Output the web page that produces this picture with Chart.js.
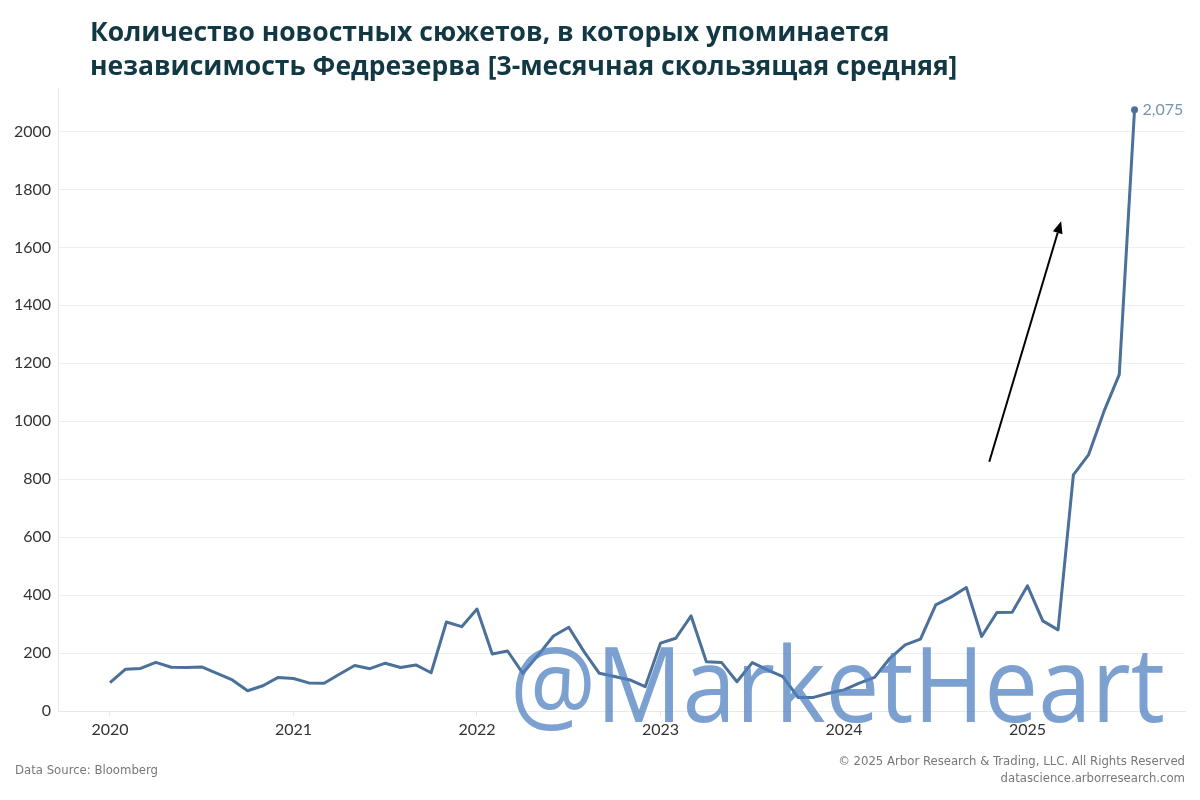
<!DOCTYPE html>
<html>
<head>
<meta charset="utf-8">
<script src="https://cdn.jsdelivr.net/npm/chart.js@4.4.1/dist/chart.umd.min.js"></script>
<style>
  html, body { margin: 0; padding: 0; background: #ffffff; }
  #c { display: block; }
</style>
</head>
<body>
<canvas id="c" width="1200" height="800"></canvas>
<script>
// ---- Data (monthly, Jan 2020 – Aug 2025) ----
const startYear = 2020;
const yearLabels = ['2020', '2021', '2022', '2023', '2024', '2025'];
const counts2020 = [98, 144, 147, 168, 151, 150, 152, 130, 107, 70, 87, 116];
const counts2021 = [112, 97, 96, 127, 157, 146, 165, 150, 159, 132, 307, 291];
const counts2022 = [352, 197, 207, 130, 193, 259, 289, 205, 130, 119, 107, 84];
const counts2023 = [234, 251, 328, 170, 167, 101, 167, 142, 119, 47, 47, 61];
const counts2024 = [73, 96, 116, 182, 228, 248, 366, 393, 426, 257, 340, 341];
const counts2025 = [432, 311, 280, 815, 885, 1034, 1161, 2075];
const yTickValues = [0, 200, 400, 600, 800, 1000, 1200, 1400, 1600, 1800, 2000];
// annotation arrow, in data units (month index, value)
const arrowFrom = { x: 57.5, y: 860 };
const arrowTo = { x: 62.2, y: 1690 };

const titleLines = [
  'Количество новостных сюжетов, в которых упоминается',
  'независимость Федрезерва [3-месячная скользящая средняя]'
];
const sourceText = 'Data Source: Bloomberg';
const copyrightLines = [
  '© 2025 Arbor Research & Trading, LLC. All Rights Reserved',
  'datascience.arborresearch.com'
];
const watermarkText = '@MarketHeart';

const allCounts = [].concat(counts2020, counts2021, counts2022, counts2023, counts2024, counts2025);
const points = allCounts.map((v, i) => ({ x: i, y: v }));
const lastIndex = points.length - 1;
const LINE = '#4b7099';

const overlayPlugin = {
  id: 'overlay',
  afterDatasetsDraw(chart) {
    const { ctx, scales } = chart;
    const xs = scales.x, ys = scales.y;
    ctx.save();
    // end label
    const lp = points[lastIndex];
    ctx.font = '16px Lato, "Open Sans", sans-serif';
    ctx.fillStyle = '#7a93ad';
    ctx.textAlign = 'left';
    ctx.textBaseline = 'middle';
    ctx.fillText(lp.y.toLocaleString('en-US'), xs.getPixelForValue(lp.x) + 8, ys.getPixelForValue(lp.y));

    // arrow
    const x1 = xs.getPixelForValue(arrowFrom.x), y1 = ys.getPixelForValue(arrowFrom.y);
    const x2 = xs.getPixelForValue(arrowTo.x), y2 = ys.getPixelForValue(arrowTo.y);
    const ang = Math.atan2(y2 - y1, x2 - x1);
    const head = 12, hw = 5;
    const bx = x2 - head * Math.cos(ang), by = y2 - head * Math.sin(ang);
    ctx.strokeStyle = '#000';
    ctx.lineWidth = 2;
    ctx.beginPath();
    ctx.moveTo(x1, y1);
    ctx.lineTo(bx, by);
    ctx.stroke();
    ctx.fillStyle = '#000';
    ctx.beginPath();
    ctx.moveTo(x2, y2);
    ctx.lineTo(bx + hw * Math.sin(ang), by - hw * Math.cos(ang));
    ctx.lineTo(bx - hw * Math.sin(ang), by + hw * Math.cos(ang));
    ctx.closePath();
    ctx.fill();

    // watermark
    ctx.font = '104px "Open Sans", sans-serif';
    ctx.fillStyle = 'rgba(80, 128, 192, 0.75)';
    ctx.textAlign = 'left';
    ctx.textBaseline = 'alphabetic';
    const w = ctx.measureText(watermarkText).width;
    const sx = 655 / w;
    ctx.translate(510, 722);
    ctx.scale(sx, 1);
    ctx.fillText(watermarkText, 0, 0);
    ctx.restore();
  },
  afterDraw(chart) {
    const { ctx } = chart;
    ctx.save();
    // title
    ctx.font = 'bold 26.5px "Open Sans", sans-serif';
    ctx.fillStyle = '#123843';
    ctx.textAlign = 'left';
    ctx.textBaseline = 'alphabetic';
    ctx.fillText(titleLines[0], 90, 41);
    ctx.fillText(titleLines[1], 90, 75);
    // footer
    ctx.font = '13px "Liberation Sans Narrow", "DejaVu Sans Condensed", sans-serif';
    ctx.fillStyle = '#777';
    ctx.fillText(sourceText, 15, 774);
    ctx.textAlign = 'right';
    ctx.fillText(copyrightLines[0], 1185, 765);
    ctx.fillText(copyrightLines[1], 1185, 782);
    ctx.restore();
  }
};

new Chart(document.getElementById('c'), {
  type: 'line',
  data: {
    datasets: [{
      data: points,
      borderColor: LINE,
      borderWidth: 3,
      borderJoinStyle: 'round',
      tension: 0,
      pointRadius: (c) => (c.dataIndex === lastIndex ? 3.5 : 0),
      pointBackgroundColor: LINE,
      pointBorderWidth: 0,
      clip: false
    }]
  },
  options: {
    responsive: false,
    animation: false,
    events: [],
    layout: { padding: { top: 88, right: 15, left: 0, bottom: 0 } },
    plugins: { legend: { display: false }, tooltip: { enabled: false }, title: { display: false } },
    scales: {
      x: {
        type: 'linear',
        min: -3.4,
        max: 70.3,
        afterBuildTicks: (a) => { a.ticks = yearLabels.map((_, i) => ({ value: i * 12 })); },
        ticks: {
          autoSkip: false,
          maxRotation: 0,
          padding: 4,
          color: '#333',
          font: { family: 'Lato, "Open Sans", sans-serif', size: 16 },
          callback: (v) => yearLabels[Math.round(v / 12)]
        },
        grid: { drawOnChartArea: false, drawTicks: true, tickLength: 5, color: '#e8e8e8' },
        border: { color: '#e8e8e8' },
        afterFit: (s) => { s.height = 89; }
      },
      y: {
        min: 0,
        max: 2150,
        afterBuildTicks: (a) => { a.ticks = yTickValues.map((v) => ({ value: v })); },
        ticks: {
          padding: 7,
          color: '#333',
          font: { family: 'Lato, "Open Sans", sans-serif', size: 16 },
          callback: (v) => String(v)
        },
        grid: { color: '#efefef', drawTicks: false },
        border: { color: '#e8e8e8' },
        afterFit: (s) => { s.width = 58; }
      }
    }
  },
  plugins: [overlayPlugin]
});
</script>
</body>
</html>
